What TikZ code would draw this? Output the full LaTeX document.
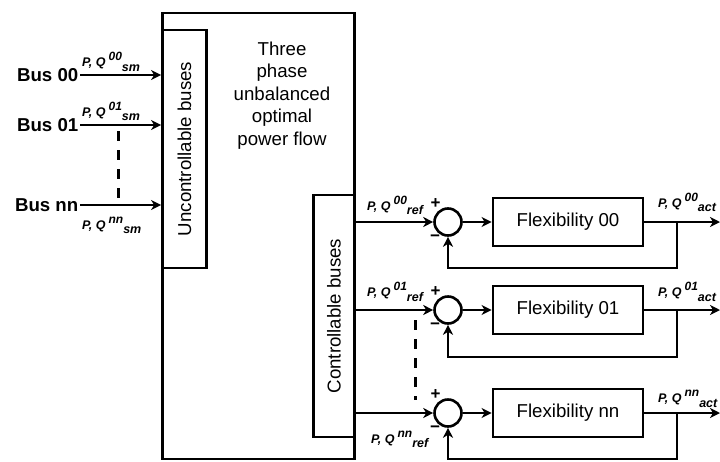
\documentclass[tikz,border=0pt]{standalone}
\usepackage{fontspec}
\setmainfont{Liberation Sans}
\usetikzlibrary{arrows.meta}
\newcommand{\pqlab}[2]{P, Q\hspace{3pt}\raisebox{6pt}{\fontsize{12}{14}\selectfont #1}\raisebox{-4.5pt}{#2}}
\begin{document}
\begin{tikzpicture}[x=1pt,y=-1pt,
  box/.style={draw, line width=2.8pt, rectangle, inner sep=0pt},
  conn/.style={line width=2.6pt},
  arr/.style={conn, -{Stealth[length=10pt,width=10pt,inset=3pt]}},
  dashln/.style={line width=3pt, dash pattern=on 10pt off 9pt},
  big/.style={font=\fontsize{18.67}{22.5}\selectfont},
  busl/.style={font=\fontsize{18.67}{22.5}\selectfont\bfseries, anchor=east, inner sep=1.5pt},
  lab/.style={font=\fontsize{12.5}{14}\selectfont\bfseries\itshape, inner sep=0pt, anchor=base west},
  pm/.style={font=\fontsize{17}{19}\selectfont\bfseries, inner sep=0pt}]
\useasboundingbox (0,0) rectangle (720,461);

% main blocks
\node[box, minimum width=192pt, minimum height=446pt] (main) at (258.5,236) {};
\node[box, minimum width=44pt, minimum height=238pt] (unc) at (184.5,149) {};
\node[box, minimum width=41pt, minimum height=242pt] (con) at (334,316) {};
\node[big, rotate=90] (unct) at (unc.center) {Uncontrollable buses};
\node[big, rotate=90] (cont) at (con.center) {Controllable buses};
\node[big, align=center, anchor=north, inner sep=0pt] (mt) at (282,41.5)
  {Three\\phase\\unbalanced\\optimal\\power flow};

% buses
\node[busl] (b0) at (80,75) {Bus 00};
\node[busl] (b1) at (80,125) {Bus 01};
\node[busl] (b2) at (80,205) {Bus nn};
\draw[arr] (b0.east) -- (b0.east -| main.west);
\draw[arr] (b1.east) -- (b1.east -| main.west);
\draw[arr] (b2.east) -- (b2.east -| main.west);
\node[lab] (l0) at (82,66.5) {\pqlab{00}{sm}};
\node[lab] (l1) at (82,116) {\pqlab{01}{sm}};
\node[lab] (l2) at (82,229) {\pqlab{nn}{sm}};
\coordinate (d0a) at (118,131);
\coordinate (d0b) at (118,198);
\draw[dashln] (d0a) -- (d0b);

% controlled rows
\foreach \r/\y/\fb/\rs/\rx/\ry/\ay in {0/222/268/00/367/210/207.3, 1/310/357/01/367/296.7/296.7, 2/413/459/nn/371/443.3/402.7}{
  \node[draw, circle, line width=2.6pt, minimum size=27pt, inner sep=0pt] (s\r) at (448,\y) {};
  \node[box, big, minimum width=150pt, minimum height=48pt] (f\r) at (568,\y) {Flexibility \rs};
  \coordinate (br\r) at (677,\y);
  \coordinate (o\r) at (720,\y);
  \coordinate (fb\r) at (448,\fb);
  \draw[arr] (s\r.west -| main.east) -- (s\r.west);
  \draw[arr] (s\r.east) -- (f\r.west);
  \draw[arr] (f\r.east) -- (o\r);
  \draw[arr] (br\r) |- (fb\r) -- (s\r.south);
  \node[pm] (p\r) at (435.5,{\y-18}) {+};
  \node[pm] (m\r) at (435,{\y+16.5}) {−};
  \node[lab] (r\r) at (\rx,\ry) {\pqlab{\rs}{ref}};
  \node[lab] (a\r) at (658,\ay) {\pqlab{\rs}{act}};
}
\coordinate (d1a) at (415,320);
\coordinate (d1b) at (415,400);
\draw[dashln] (d1a) -- (d1b);
\end{tikzpicture}
\end{document}
